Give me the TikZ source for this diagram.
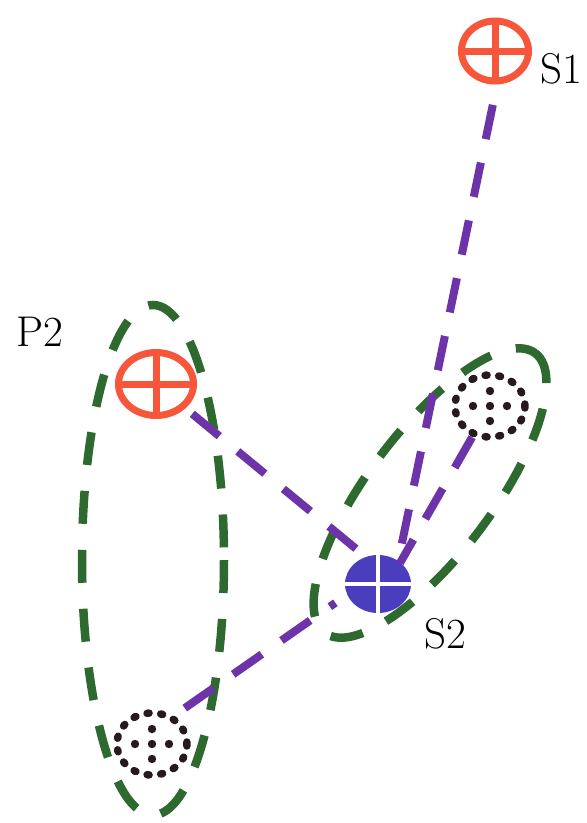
\documentclass[tikz,border=0pt]{standalone}
\usetikzlibrary{shapes.geometric}
\definecolor{markred}{RGB}{246,86,58}
\definecolor{markblue}{RGB}{74,62,190}
\definecolor{linkpurple}{RGB}{108,52,168}
\definecolor{groupgreen}{RGB}{46,105,48}
\definecolor{dotcol}{RGB}{40,25,28}
\begin{document}
\begin{tikzpicture}[x=1pt,y=-1pt,
  redmark/.style={ellipse, draw=markred, line width=7pt, inner sep=0pt,
    path picture={\draw[markred, line width=7pt]
      (path picture bounding box.north) -- (path picture bounding box.south)
      (path picture bounding box.west) -- (path picture bounding box.east);}},
  bluemark/.style={ellipse, fill=markblue, inner sep=0pt,
    minimum width=66pt, minimum height=58pt,
    path picture={\draw[white, line width=4pt]
      (path picture bounding box.north) -- (path picture bounding box.south)
      (path picture bounding box.west) -- (path picture bounding box.east);}},
  dotmark/.style={ellipse, draw=dotcol, line width=7.5pt, line cap=round,
    dash pattern=on 2pt off 11.7pt, inner sep=0pt,
    minimum width=70pt, minimum height=62pt,
    path picture={\foreach \dx/\dy in {-17/0,17/0,0/0,0/-15,0/15}
      \fill[dotcol] ([xshift=\dx pt, yshift=\dy pt]path picture bounding box.center)
        circle[radius=4.2pt];}},
  grouping/.style={draw=groupgreen, line width=8.5pt, dash pattern=on 33pt off 26pt},
  link/.style={draw=linkpurple, line width=8pt, dash pattern=on 35pt off 24pt},
  tag/.style={anchor=base west, inner sep=0pt, font=\fontsize{43pt}{50pt}\selectfont}
]
\fill[white] (0,0) rectangle (587,823);
\useasboundingbox (0,0) rectangle (587,823);

% grouping outlines
\draw[grouping] (153,560) ellipse [x radius=71, y radius=255];
\draw[grouping, rotate around={53:(430,493)}] (430,493) ellipse [x radius=175, y radius=62];

% symbols
\node[redmark, minimum width=67pt, minimum height=60pt] (S1) at (495,51) {};
\node[redmark, minimum width=75pt, minimum height=63pt] (P2) at (156,384) {};
\node[bluemark] (S2) at (378,584) {};
\node[dotmark] (D1) at (490,406) {};
\node[dotmark] (D2) at (152,744) {};

% links
\draw[link, shorten <=55pt] ([xshift=9pt]S1.center) -- ([xshift=19pt, yshift=17pt]S2.center);
\draw[link, shorten <=47pt] (P2.center) -- ([xshift=-18pt, yshift=32pt]S2.center);
\draw[link, shorten <=36pt] (D1.center) -- ([xshift=22pt, yshift=21pt]S2.center);
\draw[link, shorten <=40pt, shorten >=52pt] ([yshift=13pt]D2.center) -- ([yshift=11pt]S2.center);

% labels
\node[tag] (S1text) at (540,83) {S1};
\node[tag] (S2text) at (424,648) {S2};
\node[tag] (P2text) at (16,346) {P2};
\end{tikzpicture}
\end{document}
